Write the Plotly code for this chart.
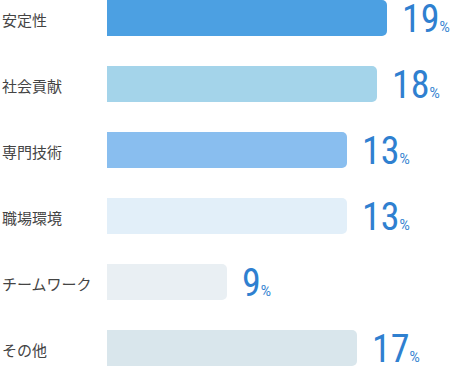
import plotly.graph_objects as go

categories = ["安定性", "社会貢献", "専門技術", "職場環境", "チームワーク", "その他"]
percent_labels = [19, 18, 13, 13, 9, 17]
bar_lengths = [28, 27, 24, 24, 12, 25]
bar_colors = ["#4CA0E2", "#A4D4EA", "#89BEEF", "#E2EFF9", "#E9EFF3", "#D9E6EC"]

ypos = list(range(len(categories)))

fig = go.Figure()
fig.add_trace(go.Bar(
    x=bar_lengths, y=ypos, orientation="h",
    marker=dict(color=bar_colors, line=dict(width=0)),
    width=36/66, hoverinfo="skip",
))

annotations = []
for i, (cat, pct, ln) in enumerate(zip(categories, percent_labels, bar_lengths)):
    annotations.append(dict(
        x=0, xref="paper", xshift=-107, y=i, yref="y",
        text=cat, showarrow=False, xanchor="left", yanchor="middle", yshift=-1,
        font=dict(family="Noto Sans CJK JP", size=15, color="#444444"),
    ))
    annotations.append(dict(
        x=ln, xref="x", y=i, yref="y", xshift=13, yshift=-1,
        text=f"{pct}<span style='font-family:Roboto;font-size:14px'>%</span>",
        showarrow=False, xanchor="left", yanchor="middle",
        font=dict(family="Roboto Condensed, Liberation Sans Narrow, Roboto", size=38, color="#2F80D0"),
    ))

fig.update_layout(
    width=451, height=366,
    margin=dict(l=107, r=0, t=0, b=0),
    paper_bgcolor="white", plot_bgcolor="white",
    barcornerradius=5,
    showlegend=False,
    xaxis=dict(range=[0, 34.4], visible=False, fixedrange=True),
    yaxis=dict(range=[5 + 18/66, -18/66], visible=False, fixedrange=True),
    annotations=annotations,
)

fig.write_html("out.html", config={"displayModeBar": False})
